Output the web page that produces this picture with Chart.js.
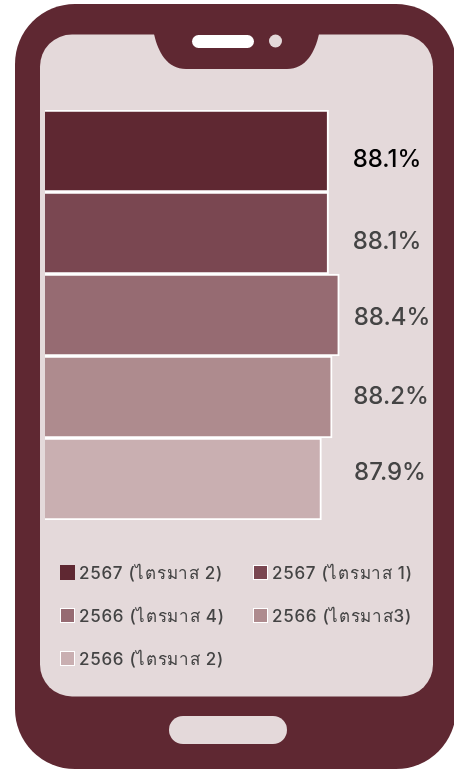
<!DOCTYPE html>
<html>
<head>
<meta charset="utf-8">
<title>Phone bar chart</title>
<script src="https://cdn.jsdelivr.net/npm/chart.js@4/dist/chart.umd.min.js"></script>
<style>
    html, body { margin: 0; padding: 0; background: #fff; }
    #wrap { position: relative; width: 454px; height: 769px; overflow: hidden; }
    #wrap svg, #wrap canvas { position: absolute; left: 0; top: 0; }
    #legend { position: absolute; left: 60px; top: 551px; width: 386px; display: grid; grid-template-columns: 193px 193px; grid-auto-rows: 43px; font: 500 17px Inter, "Noto Sans", sans-serif; letter-spacing: .7px; color: #444; }
    #legend div { display: flex; align-items: center; height: 43px; white-space: nowrap; }
    #legend i { display: block; box-sizing: border-box; width: 15px; height: 15px; margin-right: 4px; border: 1.5px solid #fff; }
</style>
</head>
<body>
<div id="wrap">
    <svg width="454" height="769" viewBox="0 0 454 769">
        <rect x="15" y="4" width="441" height="765" rx="60" fill="#5f2832"/>
        <rect x="40" y="34.5" width="393" height="662" rx="32" fill="#e4d9da"/>
        <path d="M154 34 C158 52 167 69 186 69 L287 69 C306 69 315 52 319 34 Z" fill="#5f2832"/>
        <rect x="192" y="35" width="62" height="13" rx="6.5" fill="#fff"/>
        <circle cx="275.5" cy="41" r="6.5" fill="#e4d9da"/>
        <rect x="169" y="716" width="118" height="28" rx="14" fill="#e4d9da"/>
    </svg>
    <canvas id="chart" width="454" height="769"></canvas>
    <div id="legend"></div>
</div>
<script>
const seriesNames = ['2567 (ไตรมาส 2)', '2567 (ไตรมาส 1)', '2566 (ไตรมาส 4)', '2566 (ไตรมาส3)', '2566 (ไตรมาส 2)'];
const seriesValues = [88.1, 88.1, 88.4, 88.2, 87.9];
const seriesColors = ['#5f2832', '#7a4751', '#966b72', '#ae8b8e', '#c9afb1'];
const labelColors = ['#000000', '#444444', '#444444', '#444444', '#444444'];

// hand placed in the original, not aligned to the bars
const labelX = [387, 387, 392, 391, 390];
const labelY = [159.5, 241.5, 317.5, 396.5, 472.5];

const valueLabels = {
    id: 'valueLabels',
    afterDatasetsDraw(chart) {
        const ctx = chart.ctx;
        ctx.save();
        ctx.font = '500 24px Inter, "Noto Sans", sans-serif';
        ctx.textAlign = 'center';
        ctx.textBaseline = 'middle';
        seriesValues.forEach((value, i) => {
            ctx.fillStyle = labelColors[i];
            ctx.fillText(value.toFixed(1) + '%', labelX[i], labelY[i]);
        });
        ctx.restore();
    }
};

const chart = new Chart(document.getElementById('chart'), {
    type: 'bar',
    data: {
        labels: [''],
        datasets: seriesNames.map((name, i) => ({
            label: name,
            data: [seriesValues[i]],
            backgroundColor: seriesColors[i],
            borderColor: '#ffffff',
            borderWidth: 2,
            barPercentage: 1,
            categoryPercentage: 1
        }))
    },
    options: {
        indexAxis: 'y',
        responsive: false,
        animation: false,
        layout: { padding: { left: 45, right: 22, top: 110, bottom: 249 } },
        scales: {
            x: { display: false, min: 80.15, max: 91 },
            y: { display: false }
        },
        plugins: {
            tooltip: { enabled: false },
            legend: { display: false }
        }
    },
    plugins: [valueLabels]
});

// legend is html so the two columns line up as in the original
const legendBox = document.getElementById('legend');
chart.data.datasets.forEach((dataset, i) => {
    const item = document.createElement('div');
    const box = document.createElement('i');
    box.style.background = dataset.backgroundColor;
    if (i === 0) box.style.border = 'none';
    item.appendChild(box);
    item.appendChild(document.createTextNode(dataset.label));
    legendBox.appendChild(item);
});
</script>
</body>
</html>
